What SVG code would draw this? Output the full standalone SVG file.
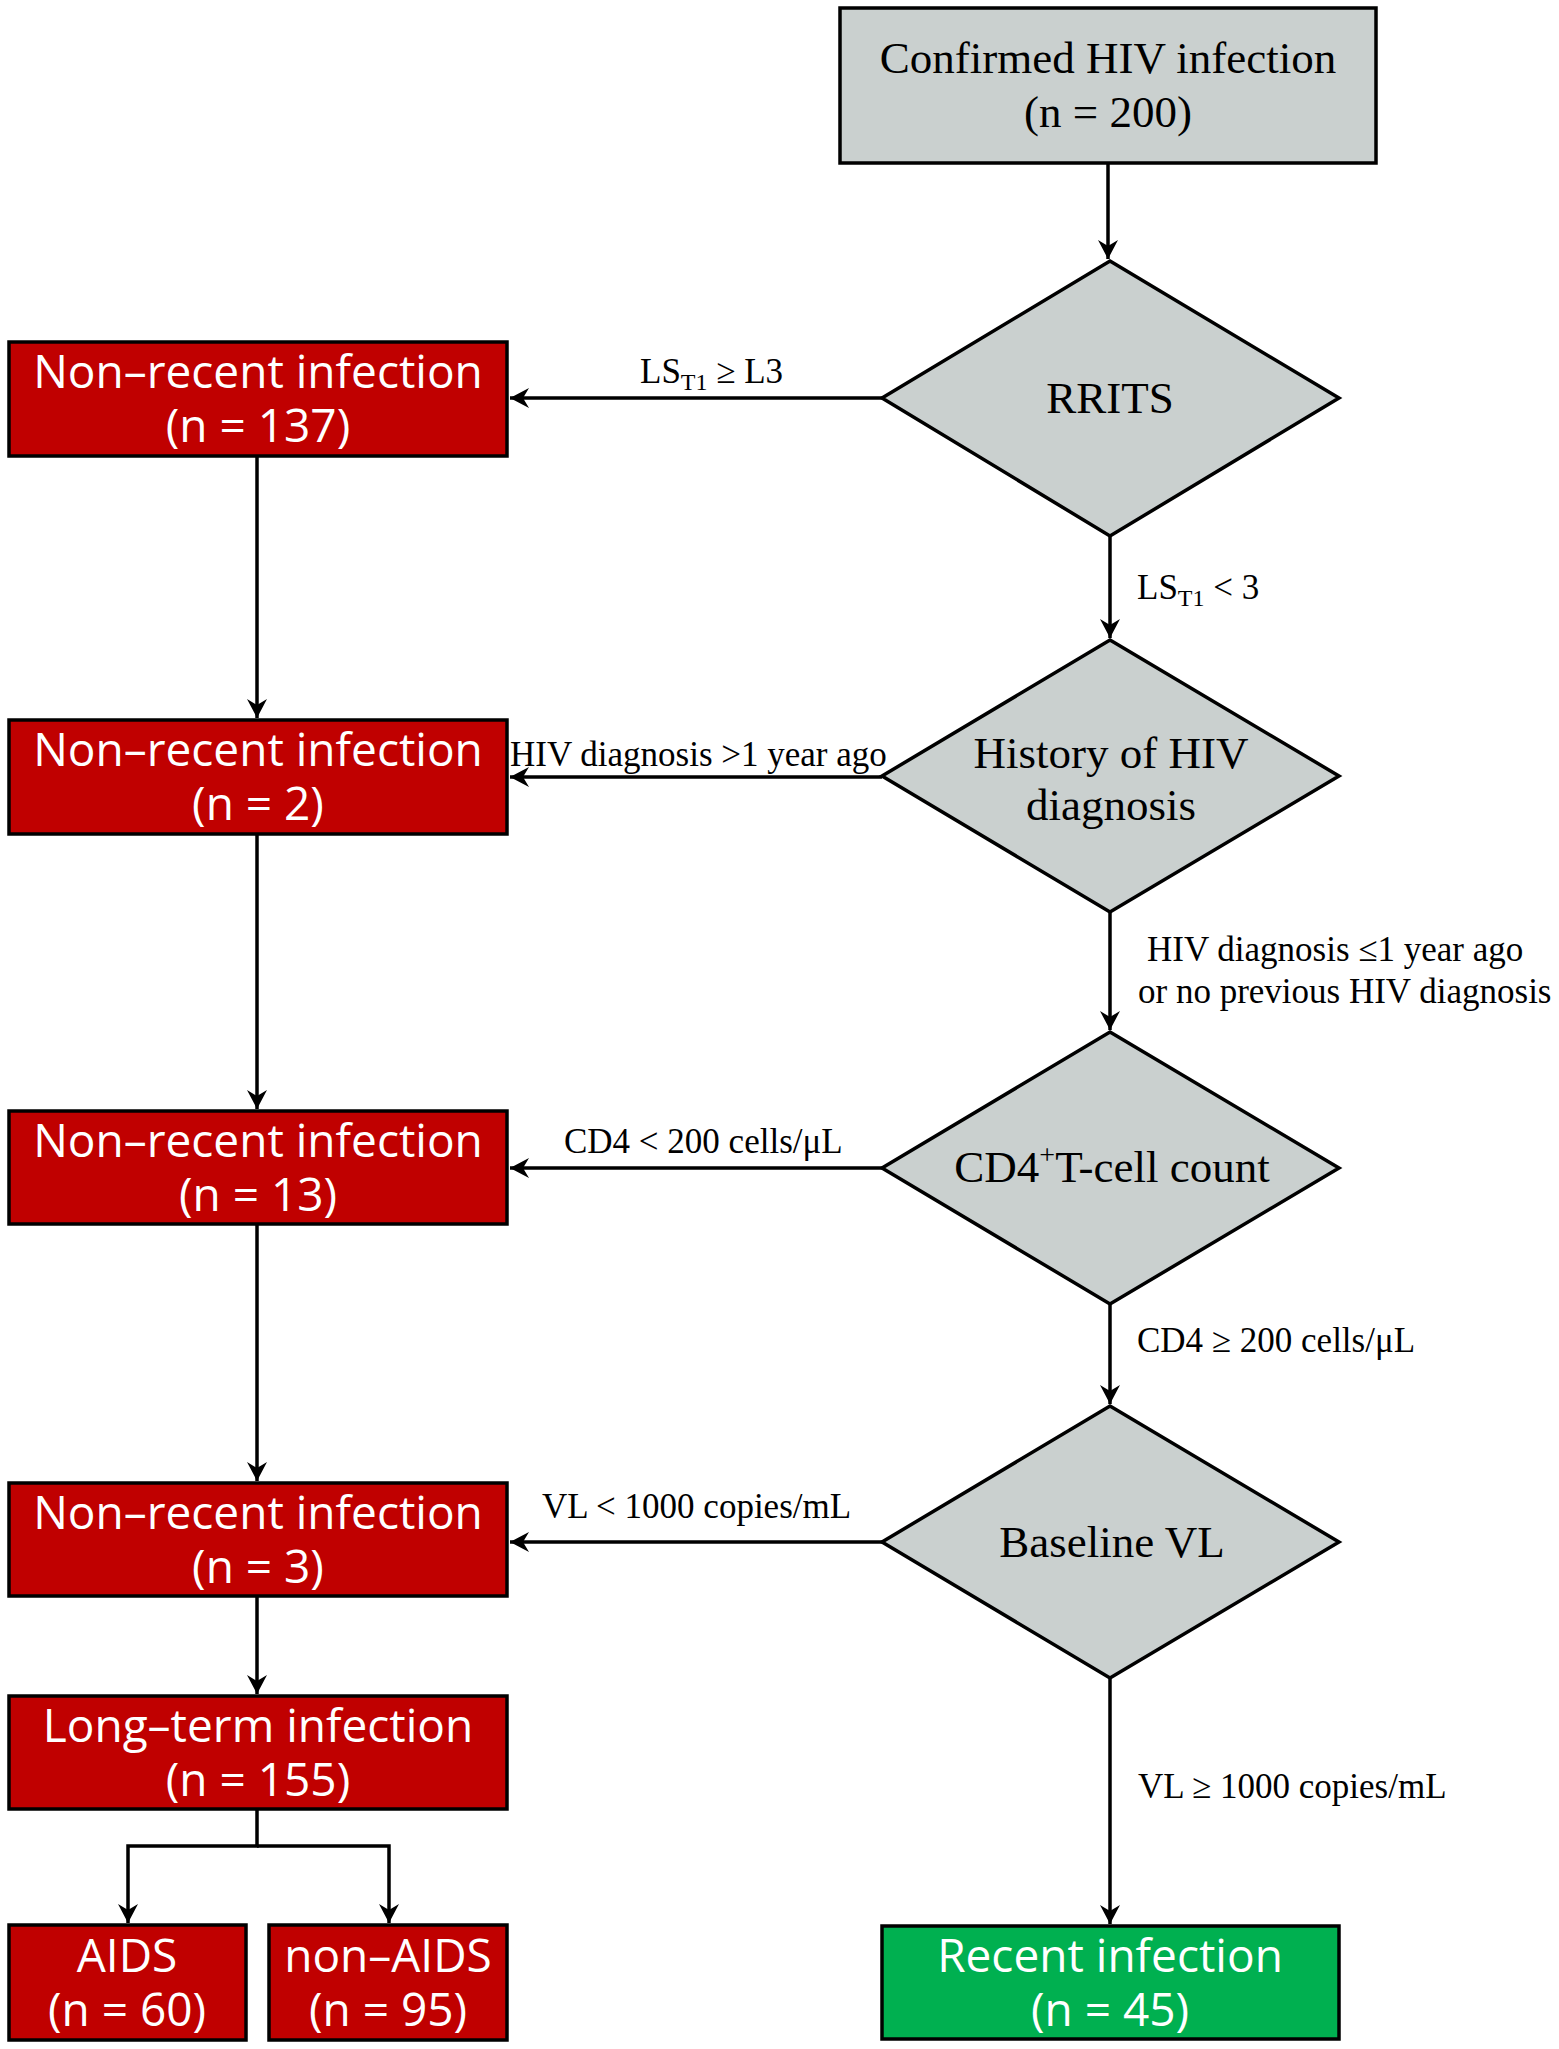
<svg xmlns="http://www.w3.org/2000/svg" width="1559" height="2049" viewBox="0 0 1559 2049">
<style>
.gbox{fill:#CAD0CF;stroke:#000;stroke-width:3.5}
.rbox{fill:#C00000;stroke:#000;stroke-width:3.5}
.grn{fill:#00B050;stroke:#000;stroke-width:3.5}
.serif{font-family:"Liberation Serif","Times New Roman",serif;fill:#000}
.big{font-size:45px;text-anchor:middle}
.lbl{font-size:35px}
.wt{font-family:"Open Sans","Noto Sans",sans-serif;font-size:46px;fill:#fff;text-anchor:middle}
.conn{fill:none;stroke:#000;stroke-width:3.5}
</style>
<defs>
<marker id="ah" markerUnits="userSpaceOnUse" markerWidth="24" markerHeight="24" viewBox="-20 -12 22 24" refX="0" refY="0" orient="auto">
<path d="M0,0 L-19,-10 L-13,0 L-19,10 Z" fill="#000"/>
</marker>
</defs>
<rect width="1559" height="2049" fill="#fff"/>
<g id="connectors">
<path class="conn" d="M1108,163 V259" marker-end="url(#ah)"/>
<path class="conn" d="M1110,536 V638" marker-end="url(#ah)"/>
<path class="conn" d="M1110,912 V1030" marker-end="url(#ah)"/>
<path class="conn" d="M1110,1304 V1404" marker-end="url(#ah)"/>
<path class="conn" d="M1110,1678 V1924" marker-end="url(#ah)"/>
<path class="conn" d="M882,398 H510" marker-end="url(#ah)"/>
<path class="conn" d="M882,777 H510" marker-end="url(#ah)"/>
<path class="conn" d="M882,1168 H510" marker-end="url(#ah)"/>
<path class="conn" d="M882,1542 H510" marker-end="url(#ah)"/>
<path class="conn" d="M257,456 V718" marker-end="url(#ah)"/>
<path class="conn" d="M257,834 V1109" marker-end="url(#ah)"/>
<path class="conn" d="M257,1224 V1481" marker-end="url(#ah)"/>
<path class="conn" d="M257,1596 V1694" marker-end="url(#ah)"/>
<path class="conn" d="M257,1809 V1846 H128 V1923" marker-end="url(#ah)"/>
<path class="conn" d="M257,1846 H389 V1923" marker-end="url(#ah)"/>
<text class="serif lbl" x="640" y="383">LS<tspan font-size="24" dy="7">T1</tspan><tspan dy="-7"> ≥ L3</tspan></text>
<text class="serif lbl" x="510" y="766">HIV diagnosis &gt;1 year ago</text>
<text class="serif lbl" x="564" y="1153">CD4 &lt; 200 cells/μL</text>
<text class="serif lbl" x="542" y="1518">VL &lt; 1000 copies/mL</text>
<text class="serif lbl" x="1137" y="599">LS<tspan font-size="24" dy="7">T1</tspan><tspan dy="-7"> &lt; 3</tspan></text>
<text class="serif lbl" x="1147" y="961">HIV diagnosis ≤1 year ago<tspan x="1138" dy="42">or no previous HIV diagnosis</tspan></text>
<text class="serif lbl" x="1137" y="1352">CD4 ≥ 200 cells/μL</text>
<text class="serif lbl" x="1138" y="1798">VL ≥ 1000 copies/mL</text>
</g>
<g id="confirmed">
<rect class="gbox" x="840" y="8" width="536" height="155"/>
<text class="serif big" x="1108" y="73">Confirmed HIV infection<tspan x="1108" dy="54">(n = 200)</tspan></text>
</g>
<g id="rrits">
<polygon class="gbox" points="1110,261 1339,398 1110,536 882,398"/>
<text class="serif big" x="1110" y="413">RRITS</text>
</g>
<g id="history">
<polygon class="gbox" points="1110,640 1339,776 1110,912 882,776"/>
<text class="serif big" x="1111" y="768">History of HIV<tspan x="1111" dy="52">diagnosis</tspan></text>
</g>
<g id="cd4">
<polygon class="gbox" points="1110,1032 1339,1168 1110,1304 882,1168"/>
<text class="serif big" x="1112" y="1182">CD4<tspan font-size="28" dy="-18">+</tspan><tspan dy="18">T-cell count</tspan></text>
</g>
<g id="vl">
<polygon class="gbox" points="1110,1406 1339,1542 1110,1678 882,1542"/>
<text class="serif big" x="1112" y="1557">Baseline VL</text>
</g>
<g id="nonrecent1">
<rect class="rbox" x="9" y="342" width="498" height="114"/>
<text class="wt" x="258" y="388">Non–recent infection<tspan x="258" dy="54">(n = 137)</tspan></text>
</g>
<g id="nonrecent2">
<rect class="rbox" x="9" y="720" width="498" height="114"/>
<text class="wt" x="258" y="766">Non–recent infection<tspan x="258" dy="54">(n = 2)</tspan></text>
</g>
<g id="nonrecent3">
<rect class="rbox" x="9" y="1111" width="498" height="113"/>
<text class="wt" x="258" y="1157">Non–recent infection<tspan x="258" dy="54">(n = 13)</tspan></text>
</g>
<g id="nonrecent4">
<rect class="rbox" x="9" y="1483" width="498" height="113"/>
<text class="wt" x="258" y="1529">Non–recent infection<tspan x="258" dy="54">(n = 3)</tspan></text>
</g>
<g id="longterm">
<rect class="rbox" x="9" y="1696" width="498" height="113"/>
<text class="wt" x="258" y="1742">Long–term infection<tspan x="258" dy="54">(n = 155)</tspan></text>
</g>
<g id="aids">
<rect class="rbox" x="9" y="1925" width="237" height="115"/>
<text class="wt" x="127" y="1972">AIDS<tspan x="127" dy="54">(n = 60)</tspan></text>
</g>
<g id="nonaids">
<rect class="rbox" x="269" y="1925" width="238" height="115"/>
<text class="wt" x="388" y="1972">non–AIDS<tspan x="388" dy="54">(n = 95)</tspan></text>
</g>
<g id="recent">
<rect class="grn" x="882" y="1926" width="457" height="113"/>
<text class="wt" x="1110" y="1972">Recent infection<tspan x="1110" dy="54">(n = 45)</tspan></text>
</g>
</svg>
